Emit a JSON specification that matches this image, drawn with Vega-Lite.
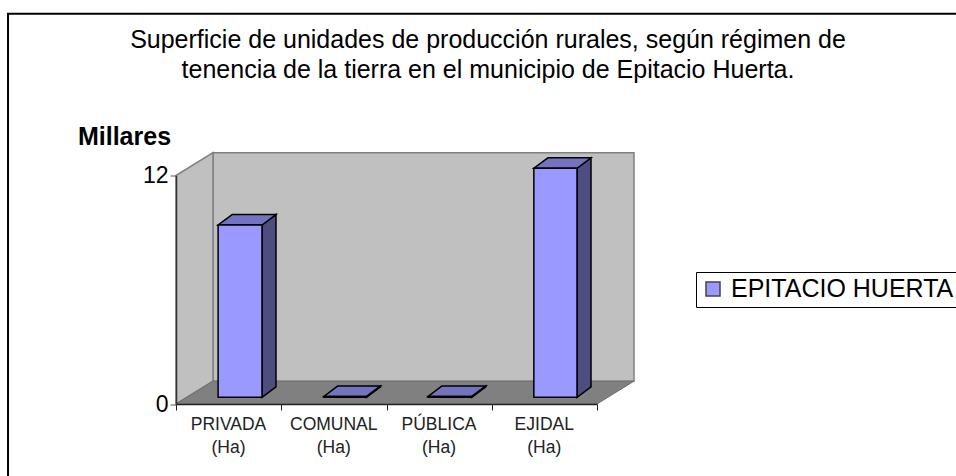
{
"$schema":"https://vega.github.io/schema/vega-lite/v6.json",
"width":421,"height":228.5,
"autosize":{"type":"none"},
"padding":{"left":176,"top":175.5,"right":359,"bottom":72},
"background":"white",
"config":{"view":{"stroke":null},"font":"Liberation Sans"},
"title":{"text":["Superficie de unidades de producción rurales, según régimen de","tenencia de la tierra en el municipio de Epitacio Huerta."],"font":"Liberation Sans","fontSize":25,"fontWeight":"normal","color":"black","lineHeight":30,"anchor":"middle","frame":"group","dx":101.5,"offset":-70},
"datasets":{
"marco":[{"x":-1.596,"x2":8,"y":-5,"y2":20.5}],
"fondo":[{"x":0.3515,"x2":4.3515,"y":1.2,"y2":13.2}],
"pared":[{"x":0,"y":0,"y2":12},{"x":0.3515,"y":1.2,"y2":13.2}],
"piso":[{"y":0,"x":0,"x2":4},{"y":1.2,"x":0.3515,"x2":4.3515}],
"frente":[
{"categoria":"PRIVADA (Ha)","serie":"EPITACIO HUERTA","x":0.4,"x2":0.817,"y":0.35,"y2":9.4},
{"categoria":"COMUNAL (Ha)","serie":"EPITACIO HUERTA","x":1.405,"x2":1.81,"y":0.35,"y2":0.4},
{"categoria":"PÚBLICA (Ha)","serie":"EPITACIO HUERTA","x":2.395,"x2":2.81,"y":0.35,"y2":0.4},
{"categoria":"EJIDAL (Ha)","serie":"EPITACIO HUERTA","x":3.4,"x2":3.81,"y":0.35,"y2":12.38}],
"lado":[
{"barra":"PRIVADA","x":0.817,"y":0.35,"y2":9.4},{"barra":"PRIVADA","x":0.95,"y":0.9,"y2":9.95},
{"barra":"COMUNAL","x":1.81,"y":0.35,"y2":0.4},{"barra":"COMUNAL","x":1.943,"y":0.9,"y2":0.95},
{"barra":"PUBLICA","x":2.81,"y":0.35,"y2":0.4},{"barra":"PUBLICA","x":2.943,"y":0.9,"y2":0.95},
{"barra":"EJIDAL","x":3.81,"y":0.35,"y2":12.38},{"barra":"EJIDAL","x":3.943,"y":0.9,"y2":12.93}],
"tapa":[
{"barra":"PRIVADA","y":9.4,"x":0.4,"x2":0.817},{"barra":"PRIVADA","y":9.95,"x":0.533,"x2":0.95},
{"barra":"COMUNAL","y":0.4,"x":1.405,"x2":1.81},{"barra":"COMUNAL","y":0.95,"x":1.538,"x2":1.943},
{"barra":"PUBLICA","y":0.4,"x":2.395,"x2":2.81},{"barra":"PUBLICA","y":0.95,"x":2.528,"x2":2.943},
{"barra":"EJIDAL","y":12.38,"x":3.4,"x2":3.81},{"barra":"EJIDAL","y":12.93,"x":3.533,"x2":3.943}]
},
"layer":[
{"data":{"name":"marco"},"mark":{"type":"rect","fill":"white","stroke":"black","strokeWidth":2},
"encoding":{"x":{"field":"x","type":"quantitative","scale":{"domain":[0,4],"nice":false,"zero":false},"axis":{"values":[0,1,2,3,4],"title":null,"grid":false,"zindex":1,"domainColor":"#222222","domainWidth":1.5,"tickColor":"#222222","tickSize":6,"labelFontSize":17.5,"labelColor":"#222222","labelFont":"Liberation Sans","labelOffset":52,"labelFlush":false,"labelOverlap":false,"labelBound":false,"labelPadding":5,"labelLineHeight":23,"labelBaseline":"top","labelExpr":"datum.value==0?['PRIVADA','(Ha)']:datum.value==1?['COMUNAL','(Ha)']:datum.value==2?['PÚBLICA','(Ha)']:datum.value==3?['EJIDAL','(Ha)']:''"}},
"x2":{"field":"x2"},
"y":{"field":"y","type":"quantitative","scale":{"domain":[0,12],"nice":false,"zero":false},"axis":{"values":[0,12],"grid":false,"zindex":1,"title":"Millares","titleAngle":0,"titleFont":"Liberation Sans","titleFontSize":25,"titleFontWeight":"bold","titleColor":"black","titleX":-52,"titleY":-31.5,"titleAlign":"center","titleBaseline":"alphabetic","domainColor":"#333333","domainWidth":1.5,"tickColor":"#555555","tickSize":6,"labelFontSize":23,"labelColor":"black","labelFont":"Liberation Sans","labelFlush":false,"labelPadding":2}},
"y2":{"field":"y2"}}},
{"data":{"name":"fondo"},"mark":{"type":"rect","fill":"#C0C0C0","stroke":"#808080","strokeWidth":1.5},"encoding":{"x":{"field":"x","type":"quantitative"},"x2":{"field":"x2"},"y":{"field":"y","type":"quantitative"},"y2":{"field":"y2"}}},
{"data":{"name":"pared"},"mark":{"type":"area","fill":"#C0C0C0","stroke":"#808080","strokeWidth":1.5},"encoding":{"x":{"field":"x","type":"quantitative"},"y":{"field":"y","type":"quantitative"},"y2":{"field":"y2"}}},
{"data":{"name":"piso"},"mark":{"type":"area","fill":"#808080","stroke":"#707070","strokeWidth":1},"encoding":{"y":{"field":"y","type":"quantitative"},"x":{"field":"x","type":"quantitative"},"x2":{"field":"x2"}}},
{"data":{"name":"lado"},"mark":{"type":"area","fill":"#4D4D80","stroke":"black","strokeWidth":1.5},"encoding":{"detail":{"field":"barra"},"x":{"field":"x","type":"quantitative"},"y":{"field":"y","type":"quantitative"},"y2":{"field":"y2"}}},
{"data":{"name":"tapa"},"mark":{"type":"area","fill":"#7373BF","stroke":"black","strokeWidth":1.5},"encoding":{"detail":{"field":"barra"},"y":{"field":"y","type":"quantitative"},"x":{"field":"x","type":"quantitative"},"x2":{"field":"x2"}}},
{"data":{"name":"frente"},"mark":{"type":"rect","stroke":"black","strokeWidth":1.5},"encoding":{"x":{"field":"x","type":"quantitative"},"x2":{"field":"x2"},"y":{"field":"y","type":"quantitative"},"y2":{"field":"y2"},
"color":{"field":"serie","type":"nominal","scale":{"range":["#9999FF"]},"legend":{"title":null,"orient":"none","legendX":520,"legendY":96.5,"fillColor":"white","strokeColor":"black","padding":4.5,"symbolType":"square","symbolSize":196,"symbolStrokeColor":"#444444","symbolStrokeWidth":1.5,"labelFontSize":25,"labelColor":"black","labelFont":"Liberation Sans","labelLimit":0,"labelOffset":5.5}}}}
]
}
